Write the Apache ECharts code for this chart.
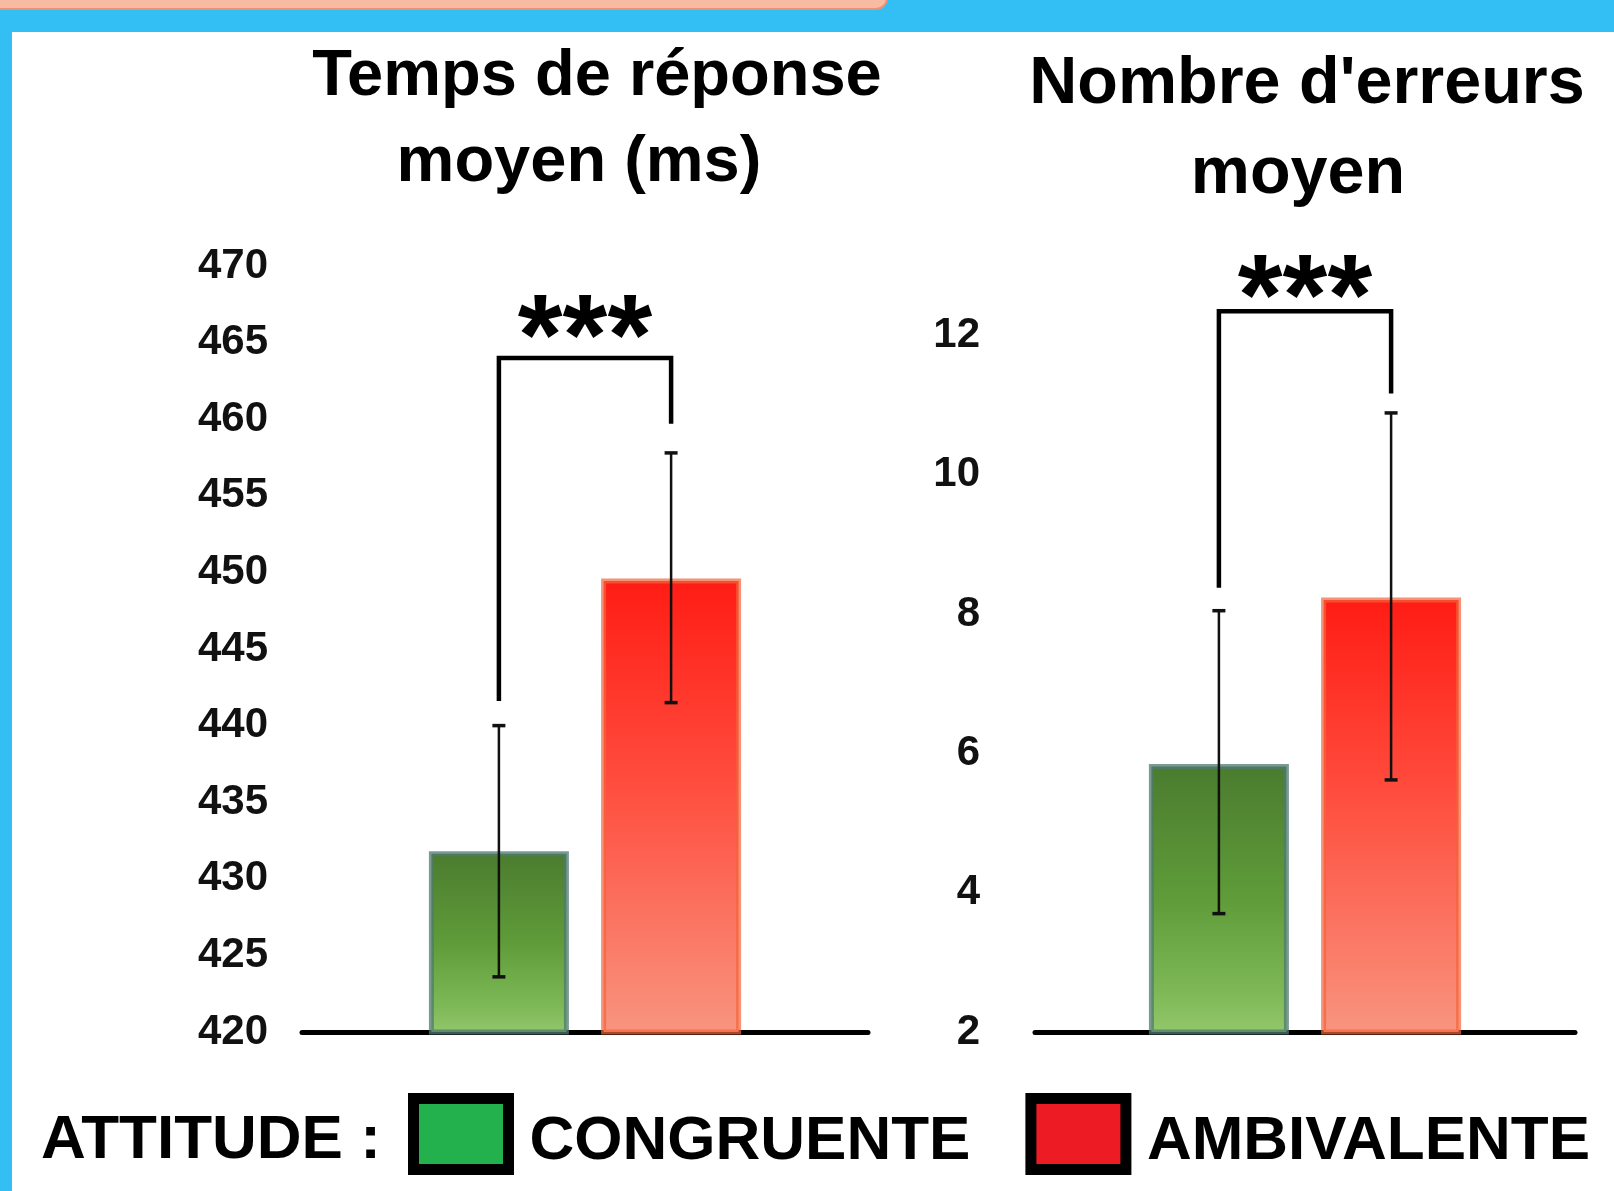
<!DOCTYPE html>
<html><head><meta charset="utf-8">
<script src="https://cdn.jsdelivr.net/npm/echarts@6/dist/echarts.min.js"></script>
<style>
html,body{margin:0;padding:0;width:1614px;height:1191px;overflow:hidden;background:#34bff4;}
#panel{position:absolute;left:12px;top:32px;right:0;bottom:0;background:#fff;}
#tab{position:absolute;left:-20px;top:-14px;width:904px;height:20px;background:#f7bba4;border:2px solid #ea9370;border-radius:12px;}
#chart{position:absolute;left:0;top:0;width:1614px;height:1191px;}
</style></head><body>
<div id="tab"></div><div id="panel"></div><div id="chart"></div>
<script>
// ---------- data ----------
const attitudes = ['CONGRUENTE', 'AMBIVALENTE'];

const rtTicks = [420, 425, 430, 435, 440, 445, 450, 455, 460, 465, 470];
const rtMean = [431.8, 449.6];
const rtErrLow = [423.6, 441.5];
const rtErrHigh = [440.0, 457.8];
const rtBracket = [441.6, 459.7, 464.0]; // left leg end, right leg end, top

const errTicks = [2, 4, 6, 8, 10, 12];
const errAxisMax = 13;
const errMean = [5.85, 8.24];
const errErrLow = [3.7, 5.62];
const errErrHigh = [8.05, 10.89];
const errBracket = [8.38, 11.17, 12.35];

const titleRt = ['Temps de réponse', 'moyen (ms)'];
const titleErr = ["Nombre d'erreurs", 'moyen'];
const legendLabel = 'ATTITUDE :';
const significance = '***';

// ---------- style ----------
const FONT = '"Liberation Sans", Arial, sans-serif';
const BAR_W = 140;
const BAR_GAP = 0.23;
const OFFSET = BAR_W * (1 + BAR_GAP) / 2;

const greenFill = new echarts.graphic.LinearGradient(0, 0, 0, 1, [
  {offset: 0, color: '#4b7b2f'}, {offset: 0.5, color: '#5f9c39'}, {offset: 0.85, color: '#7fb957'}, {offset: 1, color: '#93c76c'}]);
const redFill = new echarts.graphic.LinearGradient(0, 0, 0, 1, [
  {offset: 0, color: '#ff1c14'}, {offset: 0.45, color: '#ff4d3e'}, {offset: 1, color: '#f8957f'}]);
const barStyles = [
  {color: greenFill, borderColor: 'rgba(78,122,112,0.75)', borderWidth: 5},
  {color: redFill, borderColor: 'rgba(242,100,58,0.7)', borderWidth: 5}
];

function errorRender(params, api) {
  const lo = api.coord([api.value(0), api.value(1)]);
  const hi = api.coord([api.value(0), api.value(2)]);
  const x = lo[0] + (api.value(3) - 0.5) * 2 * OFFSET;
  const cap = 6.5;
  const st = {stroke: '#111', lineWidth: 2.5};
  const cs = {stroke: '#111', lineWidth: 3.5};
  return {type: 'group', children: [
    {type: 'line', shape: {x1: x, y1: hi[1], x2: x, y2: lo[1]}, style: st},
    {type: 'line', shape: {x1: x - cap, y1: hi[1], x2: x + cap, y2: hi[1]}, style: cs},
    {type: 'line', shape: {x1: x - cap, y1: lo[1], x2: x + cap, y2: lo[1]}, style: cs}
  ]};
}

function bracketRender(starGap) {
  return function (params, api) {
    const c = api.coord([api.value(0), api.value(3)]);
    const yL = api.coord([api.value(0), api.value(1)])[1];
    const yR = api.coord([api.value(0), api.value(2)])[1];
    const xL = c[0] - OFFSET, xR = c[0] + OFFSET, yT = c[1];
    return {type: 'group', children: [
      {type: 'polyline', shape: {points: [[xL, yL], [xL, yT], [xR, yT], [xR, yR]]},
       style: {stroke: '#000', lineWidth: 4.5, fill: null}},
      {type: 'text', x: (xL + xR) / 2, y: yT - starGap,
       style: {text: significance, fontSize: 115, fontWeight: 'bold', fontFamily: FONT,
               fill: '#000', align: 'center', verticalAlign: 'middle'}}
    ]};
  };
}

const axisLabelStyle = {fontSize: 42, fontWeight: 'bold', color: '#111', fontFamily: FONT};

function barSeries(means, axisIdx) {
  return attitudes.map((name, i) => ({
    type: 'bar', name: name, xAxisIndex: axisIdx, yAxisIndex: axisIdx,
    data: [means[i]], barWidth: BAR_W, barGap: (BAR_GAP * 100) + '%',
    itemStyle: barStyles[i], emphasis: {disabled: true}, z: 2
  }));
}

const titleStyle = {fontSize: 65, lineHeight: 65, fontWeight: 'bold', color: '#000', fontFamily: FONT};
const titleStyleR = Object.assign({}, titleStyle, {fontSize: 66.5});

// legend swatch: 95x71 box drawn in the top part of a 95x87 symbol area
const SWATCH = 'path://M0,87 M0,0 L95,0 L95,71 L0,71 Z';

const option = {
  animation: false,
  backgroundColor: 'transparent',
  title: [
    {text: titleRt[0], left: 597, top: 45, textAlign: 'center', padding: 0, textStyle: titleStyle},
    {text: titleRt[1], left: 579, top: 131, textAlign: 'center', padding: 0, textStyle: titleStyle},
    {text: titleErr[0], left: 1307, top: 52, textAlign: 'center', padding: 0, textStyle: titleStyleR},
    {text: titleErr[1], left: 1298, top: 142, textAlign: 'center', padding: 0, textStyle: titleStyleR},
    {text: legendLabel, left: 41, top: 1110, padding: 0,
     textStyle: {fontSize: 62, lineHeight: 62, fontWeight: 'bold', color: '#000', fontFamily: FONT}}
  ],
  legend: {
    left: 408, top: 1093, padding: 0, orient: 'horizontal',
    itemWidth: 95, itemHeight: 87, itemGap: 55, icon: SWATCH, selectedMode: false,
    data: [
      {name: attitudes[0], itemStyle: {color: '#22b14c', borderColor: '#000', borderWidth: 11}},
      {name: attitudes[1], itemStyle: {color: '#ed1c24', borderColor: '#000', borderWidth: 11}}
    ],
    textStyle: {fontSize: 62, lineHeight: 71, fontWeight: 'bold', color: '#000', fontFamily: FONT,
                padding: [0, 0, 0, 16]}
  },
  grid: [
    {left: 302, right: 746, top: 266, bottom: 159},
    {left: 1035, right: 39, top: 266, bottom: 159}
  ],
  xAxis: [0, 1].map(i => ({
    type: 'category', gridIndex: i, data: ['Attitude'],
    axisLine: {show: true, lineStyle: {color: '#000', width: 5}},
    axisTick: {show: false}, axisLabel: {show: false}, splitLine: {show: false}
  })),
  yAxis: [
    {type: 'value', gridIndex: 0, min: rtTicks[0], max: rtTicks[rtTicks.length - 1],
     interval: rtTicks[1] - rtTicks[0],
     axisLine: {show: false}, axisTick: {show: false}, splitLine: {show: false},
     axisLabel: Object.assign({margin: 34}, axisLabelStyle)},
    {type: 'value', gridIndex: 1, min: errTicks[0], max: errAxisMax,
     interval: errTicks[1] - errTicks[0],
     axisLine: {show: false}, axisTick: {show: false}, splitLine: {show: false},
     axisLabel: Object.assign({margin: 55, showMaxLabel: true,
       formatter: v => (errTicks.indexOf(v) >= 0 ? String(v) : '')}, axisLabelStyle)}
  ],
  series: [
    ...barSeries(rtMean, 0),
    ...barSeries(errMean, 1),
    {type: 'custom', name: 'err-rt', xAxisIndex: 0, yAxisIndex: 0, renderItem: errorRender,
     encode: {x: 0, y: [1, 2]}, z: 5,
     data: attitudes.map((a, i) => [0, rtErrLow[i], rtErrHigh[i], i])},
    {type: 'custom', name: 'err-err', xAxisIndex: 1, yAxisIndex: 1, renderItem: errorRender,
     encode: {x: 0, y: [1, 2]}, z: 5,
     data: attitudes.map((a, i) => [0, errErrLow[i], errErrHigh[i], i])},
    {type: 'custom', name: 'sig-rt', xAxisIndex: 0, yAxisIndex: 0, renderItem: bracketRender(16),
     encode: {x: 0, y: [1, 2, 3]}, z: 5, data: [[0].concat(rtBracket)]},
    {type: 'custom', name: 'sig-err', xAxisIndex: 1, yAxisIndex: 1, renderItem: bracketRender(9),
     encode: {x: 0, y: [1, 2, 3]}, z: 5, data: [[0].concat(errBracket)]}
  ]
};

const chart = echarts.init(document.getElementById('chart'), null, {renderer: 'canvas'});
chart.setOption(option);
</script></body></html>
